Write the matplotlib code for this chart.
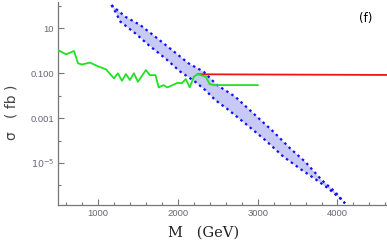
import matplotlib
matplotlib.use('Agg')
import matplotlib.pyplot as plt
import numpy as np
from matplotlib.ticker import FixedLocator, NullFormatter

# band: upper and lower edges (sigma in fb)
m_up = [1169, 1344, 1531, 1719, 1928, 2135, 2323, 2490, 2719, 2969,
        3198, 3406, 3594, 3803, 3969, 4094]
s_up = [105, 31.6, 13.5, 4.07, 1.05, 0.269, 0.115, 0.0295, 0.0089, 0.00135,
        2.45e-4, 4.5e-5, 1.15e-5, 1.74e-6, 5.2e-7, 1.62e-7]
m_lo = [1169, 1219, 1281, 1469, 1635, 1844, 2031, 2219, 2344, 2469,
        2635, 2844, 3094, 3323, 3553, 3740, 3879, 4031, 4094]
s_lo = [105, 52.5, 19.1, 5.75, 1.74, 0.447, 0.115, 0.0407, 0.0174, 0.0063,
        0.00229, 5.75e-4, 1.05e-4, 1.9e-5, 4.9e-6, 1.74e-6, 7.6e-7, 2.7e-7, 1.62e-7]

# green limit curve
m_green = [500, 600, 700, 750, 800, 900, 1000, 1100, 1200, 1250, 1300, 1350,
           1400, 1450, 1500, 1600, 1650, 1720, 1760, 1820, 1870, 2000, 2050,
           2100, 2150, 2200, 2250, 2350, 2400, 2450, 2700, 3000]
s_green = [1.05, 0.68, 0.95, 0.27, 0.24, 0.29, 0.20, 0.146, 0.058, 0.097,
           0.045, 0.090, 0.049, 0.097, 0.041, 0.136, 0.081, 0.081, 0.023,
           0.029, 0.023, 0.037, 0.035, 0.054, 0.023, 0.068, 0.090, 0.068,
           0.032, 0.029, 0.029, 0.029]

# red limit
m_red = [2250, 4700]
s_red = [0.088, 0.082]

xmaj = [1000, 2000, 3000, 4000]
xmin = [600, 800, 1200, 1400, 1600, 1800, 2200, 2400, 2600, 2800,
        3200, 3400, 3600, 3800, 4200, 4400, 4600]
ymaj = [1e1, 1e-1, 1e-3, 1e-5]
ylab = ['10', '0.100', '0.001', '$10^{-5}$']
ymin = [1e2, 1e0, 1e-2, 1e-4, 1e-6]

fig = plt.figure(figsize=(3.87, 2.45), dpi=100)
ax = fig.add_axes([0.150, 0.163, 0.850, 0.829])

ax.fill(np.concatenate([m_up, m_lo[::-1]]), np.concatenate([s_up, s_lo[::-1]]),
        color='#c9c9f7', lw=0, zorder=1)
ax.plot(m_up, s_up, color='#1010ff', lw=1.6, dashes=(1.1, 1.6), zorder=3)
ax.plot(m_lo, s_lo, color='#1010ff', lw=1.6, dashes=(1.1, 1.6), zorder=3)
ax.plot(m_green, s_green, color='#22e022', lw=1.3, zorder=4)
ax.plot(m_red, s_red, color='#ee1515', lw=1.3, zorder=2)

ax.set_yscale('log')
ax.set_xlim(500, 4620)
ax.set_ylim(10**-6.87, 10**2.16)

ax.xaxis.set_major_locator(FixedLocator(xmaj))
ax.xaxis.set_minor_locator(FixedLocator(xmin))
ax.set_xticklabels([str(v) for v in xmaj])
ax.yaxis.set_major_locator(FixedLocator(ymaj))
ax.yaxis.set_minor_locator(FixedLocator(ymin))
ax.set_yticklabels(ylab)
ax.yaxis.set_minor_formatter(NullFormatter())

for s in ['top', 'right']:
    ax.spines[s].set_visible(False)
for s in ['left', 'bottom']:
    ax.spines[s].set_color('#777777')
    ax.spines[s].set_linewidth(0.9)

ax.tick_params(which='both', direction='in', colors='#777777', labelcolor='#666677',
               labelsize=6.8, width=0.8)
ax.tick_params(which='major', length=4, pad=3)
ax.tick_params(which='minor', length=2.5)
for lbl in ax.get_xticklabels() + ax.get_yticklabels():
    lbl.set_family('Liberation Sans')

fig.text(0.525, 0.049, 'M   (GeV)', family='DejaVu Serif', fontsize=10.5,
         ha='center', va='center', color='#222222')
fig.text(0.030, 0.543, 'σ   ( fb )', fontsize=10, rotation=90,
         ha='center', va='center', color='#444444')
fig.text(0.946, 0.925, '(f)', fontsize=8.5, ha='center', va='center')

fig.savefig('out.png', dpi=100)
